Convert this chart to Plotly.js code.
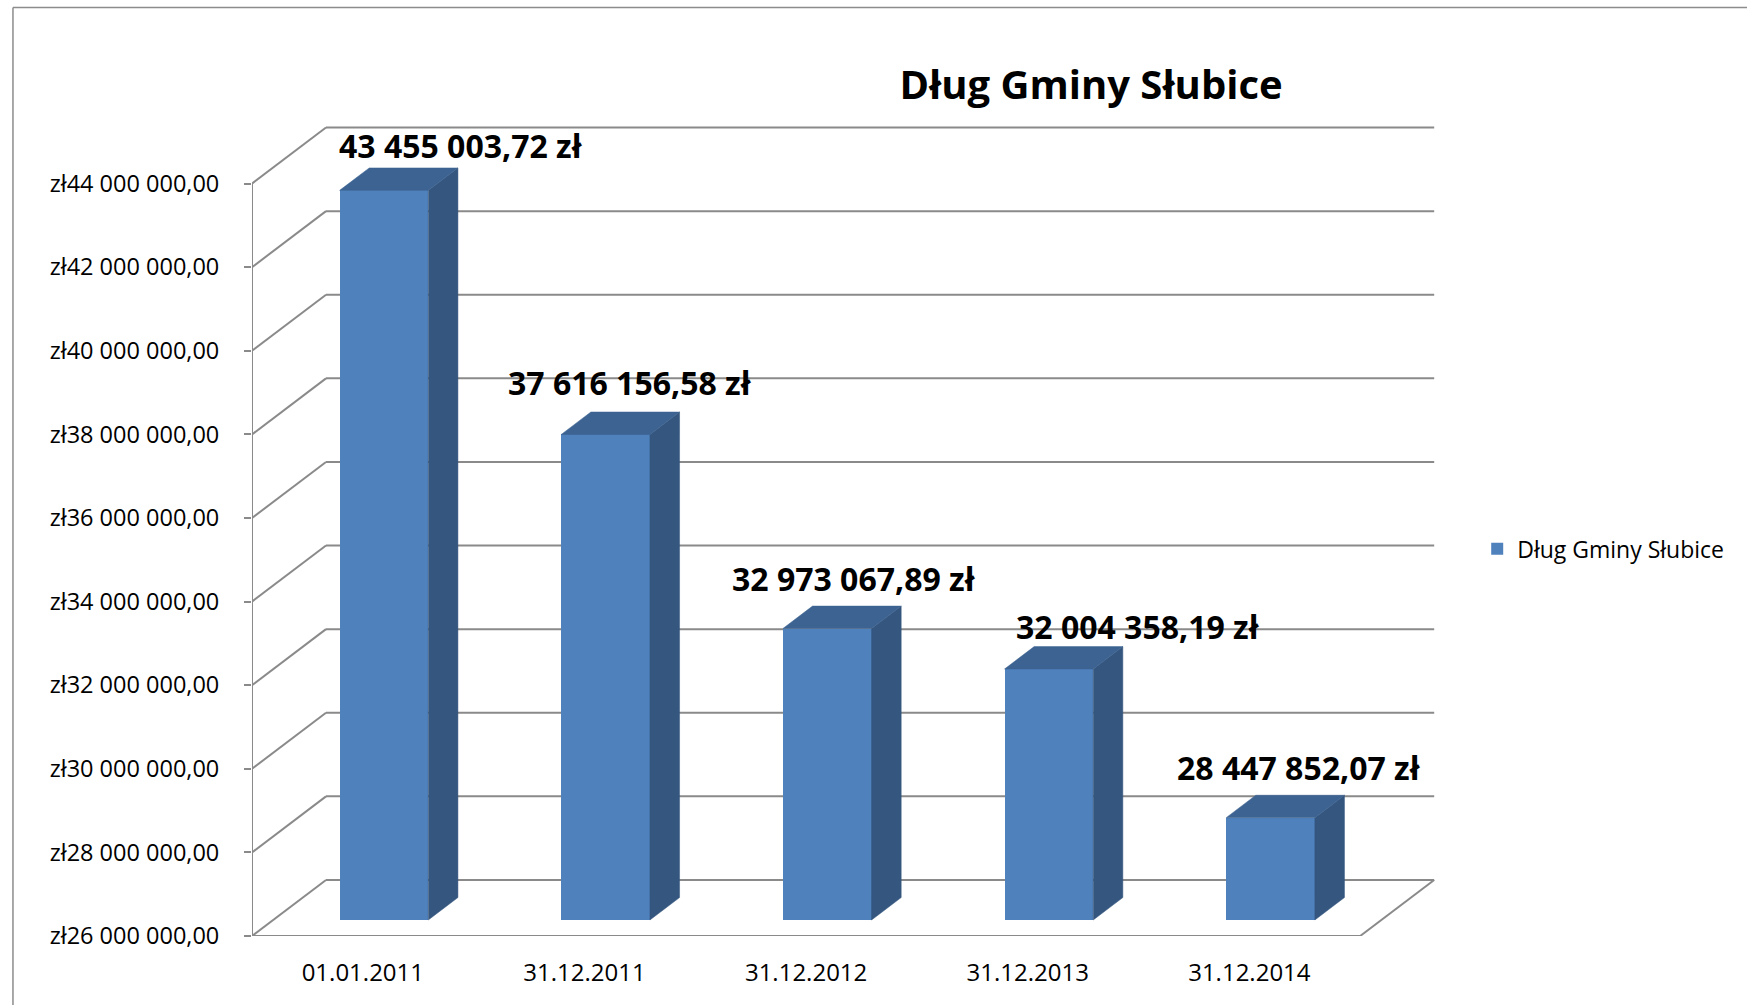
<!DOCTYPE html>
<html>
<head>
<meta charset="utf-8">
<script src="https://cdn.plot.ly/plotly-3.0.1.min.js"></script>
<style>
html, body { margin: 0; padding: 0; background: #ffffff; }
#chart { width: 1747px; height: 1005px; }
</style>
</head>
<body>
<div id="chart"></div>
<script>
// ---------------- DATA ----------------
const chartTitle = 'Dług Gminy Słubice';
const seriesName = 'Dług Gminy Słubice';
const categories = ['01.01.2011', '31.12.2011', '31.12.2012', '31.12.2013', '31.12.2014'];
const debtValues = [43455003.72, 37616156.58, 32973067.89, 32004358.19, 28447852.07];
const dataLabels = ['43 455 003,72 zł', '37 616 156,58 zł', '32 973 067,89 zł', '32 004 358,19 zł', '28 447 852,07 zł'];
const yTickValues = [26000000, 28000000, 30000000, 32000000, 34000000, 36000000, 38000000, 40000000, 42000000, 44000000];
const yTickLabels = ['zł26 000 000,00', 'zł28 000 000,00', 'zł30 000 000,00', 'zł32 000 000,00', 'zł34 000 000,00',
                     'zł36 000 000,00', 'zł38 000 000,00', 'zł40 000 000,00', 'zł42 000 000,00', 'zł44 000 000,00'];

// ---------------- LAYOUT / STYLE ----------------
const W = 1747, H = 1005;
const PLOT_LEFT = 252, PLOT_BOTTOM = 936;
const CAT_PX = 221.6;                 // pixels per category
const VAL_PX = 752 / 18000000;        // pixels per unit of value
const X_MIN = -0.5, X_MAX = 5.0;
const Y_MIN = 26000000, Y_MAX = 46000000;
const plotW = (X_MAX - X_MIN) * CAT_PX;
const plotH = (Y_MAX - Y_MIN) * VAL_PX;

// 3D depth (oblique projection) expressed in axis units
const DX = 74 / CAT_PX;
const DY = 56 / VAL_PX;
const BAR_D0 = 0.286;     // depth position of the bar front face (fraction of floor depth)
const BAR_DEPTH = 0.4;    // bar depth (fraction of floor depth)
const BAR_HALF = 0.2;     // half bar width in category units

const GRID_COLOR = '#8A8A8A';
const FRONT_COLOR = '#4F81BD';
const TOP_COLOR = '#3C6391';
const SIDE_COLOR = '#34567F';
const FONT = 'Open Sans, sans-serif';

// label pixel nudges (Excel's automatic label placement)
const labelShiftX = [77, 24, 27, 89, 28];
const labelShiftY = [45, 52, 50, 42, 50];

function paperX(px) { return (px - PLOT_LEFT) / plotW; }
function paperY(py) { return (PLOT_BOTTOM - py) / plotH; }

const lastBoundary = categories.length - 0.5;

// ---------------- SHAPES (walls, floor, axes) ----------------
const shapes = [];
function seg(x0, y0, x1, y1, extra) {
  return Object.assign({
    type: 'line', xref: 'x', yref: 'y', x0: x0, y0: y0, x1: x1, y1: y1,
    line: { color: GRID_COLOR, width: 2 }, layer: 'below'
  }, extra || {});
}
yTickValues.forEach(function (v) {
  // left wall diagonal
  shapes.push(seg(X_MIN, v, X_MIN + DX, v + DY));
  // back wall gridline
  shapes.push(seg(X_MIN + DX, v + DY, lastBoundary + DX, v + DY));
});
// floor front edge and right edge
shapes.push(seg(X_MIN, Y_MIN, lastBoundary, Y_MIN));
shapes.push(seg(lastBoundary, Y_MIN, lastBoundary + DX, Y_MIN + DY));
// vertical value axis line
shapes.push(seg(X_MIN, Y_MIN, X_MIN, yTickValues[yTickValues.length - 1]));
// category tick marks at boundaries
for (let b = X_MIN; b <= lastBoundary + 1e-9; b += 1) {
  shapes.push({
    type: 'line', xref: 'x', yref: 'y', x0: b, x1: b,
    ysizemode: 'pixel', yanchor: Y_MIN, y0: 0, y1: -9,
    line: { color: GRID_COLOR, width: 2 }, layer: 'below'
  });
}
// outer chart frame (top and left edges visible)
shapes.push({ type: 'line', xref: 'paper', yref: 'paper', x0: paperX(13), y0: paperY(8), x1: paperX(W + 5), y1: paperY(8),
              line: { color: '#8C8C8C', width: 1.5 }, layer: 'above' });
shapes.push({ type: 'line', xref: 'paper', yref: 'paper', x0: paperX(13), y0: paperY(8), x1: paperX(13), y1: paperY(H + 5),
              line: { color: '#8C8C8C', width: 1.5 }, layer: 'above' });

// ---------------- TRACES ----------------
const xIndex = categories.map(function (c, i) { return i; });
const traces = [];

// bar front faces (real bar trace, drives legend)
traces.push({
  type: 'bar',
  name: seriesName,
  x: xIndex,
  y: debtValues.map(function (v) { return v - Y_MIN; }),
  base: Y_MIN + BAR_D0 * DY,
  width: BAR_HALF * 2,
  offset: -BAR_HALF + BAR_D0 * DX,
  marker: { color: FRONT_COLOR, line: { width: 0 } },
  hoverinfo: 'skip',
  showlegend: true
});

// side and top faces
debtValues.forEach(function (v, i) {
  const xl = i - BAR_HALF + BAR_D0 * DX;
  const xr = i + BAR_HALF + BAR_D0 * DX;
  const yb = Y_MIN + BAR_D0 * DY;
  const yt = v + BAR_D0 * DY;
  const ddx = BAR_DEPTH * DX, ddy = BAR_DEPTH * DY;
  traces.push({
    type: 'scatter', mode: 'lines', fill: 'toself', fillcolor: SIDE_COLOR,
    line: { color: SIDE_COLOR, width: 0.5 },
    x: [xr, xr + ddx, xr + ddx, xr, xr],
    y: [yb, yb + ddy, yt + ddy, yt, yb],
    hoverinfo: 'skip', showlegend: false
  });
  traces.push({
    type: 'scatter', mode: 'lines', fill: 'toself', fillcolor: TOP_COLOR,
    line: { color: TOP_COLOR, width: 0.5 },
    x: [xl, xr, xr + ddx, xl + ddx, xl],
    y: [yt, yt, yt + ddy, yt + ddy, yt],
    hoverinfo: 'skip', showlegend: false
  });
});

// ---------------- ANNOTATIONS (data labels) ----------------
const annotations = debtValues.map(function (v, i) {
  return {
    x: i + BAR_D0 * DX, y: v + BAR_D0 * DY, xref: 'x', yref: 'y',
    text: dataLabels[i], showarrow: false,
    xanchor: 'center', yanchor: 'middle',
    xshift: labelShiftX[i], yshift: labelShiftY[i],
    font: { family: FONT, size: 32, color: '#000000', weight: 700 }
  };
});

const layout = {
  width: W, height: H,
  margin: { l: PLOT_LEFT, r: W - PLOT_LEFT - plotW, t: H - (H - PLOT_BOTTOM) - plotH, b: H - PLOT_BOTTOM, pad: 0 },
  paper_bgcolor: '#ffffff', plot_bgcolor: 'rgba(0,0,0,0)',
  font: { family: FONT, size: 23, color: '#000000' },
  title: {
    text: chartTitle,
    font: { family: FONT, size: 40, color: '#000000', weight: 700 },
    xref: 'container', yref: 'container',
    x: 1091 / W, xanchor: 'center',
    y: 1 - 85 / H, yanchor: 'middle'
  },
  xaxis: {
    type: 'linear', range: [X_MIN, X_MAX], fixedrange: true,
    tickmode: 'array', tickvals: xIndex, ticktext: categories,
    ticks: '', showgrid: false, zeroline: false, showline: false,
    ticklabelstandoff: 20,
    tickfont: { family: FONT, size: 24, color: '#000000' }
  },
  yaxis: {
    type: 'linear', range: [Y_MIN, Y_MAX], fixedrange: true,
    tickmode: 'array', tickvals: yTickValues, ticktext: yTickLabels,
    ticks: 'outside', ticklen: 7, tickwidth: 2, tickcolor: GRID_COLOR,
    showgrid: false, zeroline: false, showline: false,
    ticklabelstandoff: 20,
    tickfont: { family: FONT, size: 23.5, color: '#000000' }
  },
  showlegend: true,
  legend: {
    x: paperX(1477), xanchor: 'left', xref: 'paper',
    y: paperY(549), yanchor: 'middle', yref: 'paper',
    bgcolor: 'rgba(0,0,0,0)', borderwidth: 0,
    font: { family: FONT, size: 23, color: '#000000' }
  },
  bargap: 0,
  shapes: shapes,
  annotations: annotations
};

Plotly.newPlot('chart', traces, layout, { staticPlot: true, displayModeBar: false });
</script>
</body>
</html>
